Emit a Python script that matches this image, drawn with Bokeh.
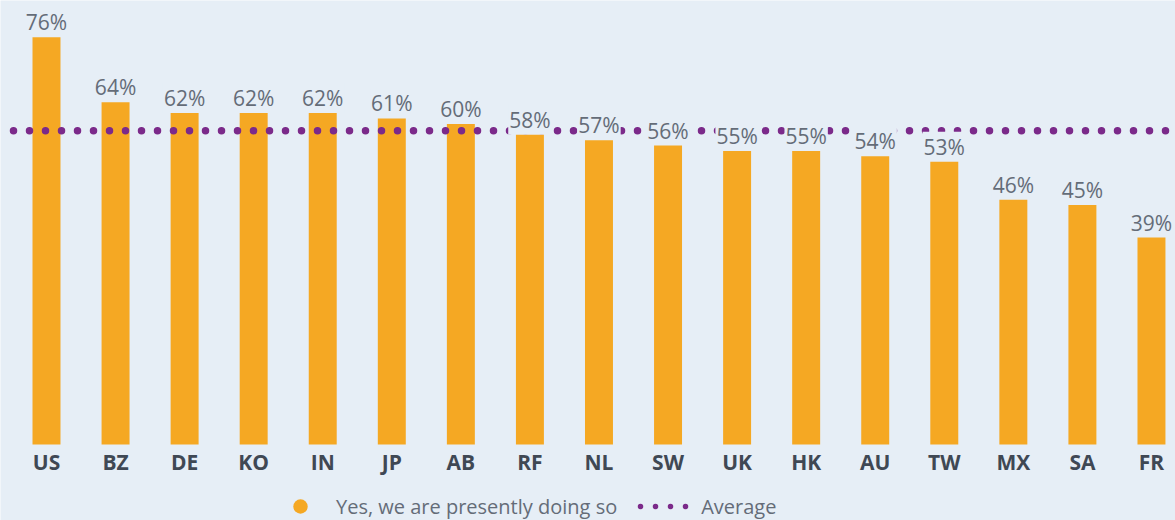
from bokeh.plotting import figure
from bokeh.models import ColumnDataSource, Range1d, Legend, LegendItem
from bokeh.core.properties import value
from bokeh.embed import file_html
from bokeh.resources import INLINE

countries = ["US", "BZ", "DE", "KO", "IN", "JP", "AB", "RF", "NL", "SW", "UK", "HK", "AU", "TW", "MX", "SA", "FR"]
yes_values = [76, 64, 62, 62, 62, 61, 60, 58, 57, 56, 55, 55, 54, 53, 46, 45, 39]
average_value = 58
series_name = "Yes, we are presently doing so"
average_name = "Average"

BG = "#E6EEF6"
ORANGE = "#F5A823"
PURPLE = "#7B2A8A"
LABEL_GRAY = "#646C78"
AXIS_GRAY = "#3F4854"
FONT = "Open Sans"

x_lo, x_hi = -0.666, 16.348
y_lo, y_hi = -14.05, 82.07
xs = list(range(len(countries)))
src = ColumnDataSource(dict(x=xs, y=yes_values, lab=[f"{v}%" for v in yes_values],
                            base=[0] * len(xs), cat=countries))

p = figure(width=1175, height=520, output_backend="svg", toolbar_location=None,
           x_range=Range1d(x_lo, x_hi), y_range=Range1d(y_lo, y_hi),
           min_border_left=0, min_border_right=0, min_border_top=0, min_border_bottom=0)
p.background_fill_color = BG
p.border_fill_color = BG
p.outline_line_color = None
p.grid.visible = False
p.axis.visible = False

bars = p.vbar(x="x", top="y", width=0.405, bottom=0, source=src, color=ORANGE, line_color=None)

avg_line = p.line(x=[x_lo, x_hi], y=[average_value, average_value], line_color=PURPLE,
                  line_width=7.5, line_dash="0 16", line_cap="round", line_dash_offset=-13)

# value labels
p.text(x="x", y="y", text="lab", source=src, text_align="center", text_baseline="bottom",
       y_offset=4, text_font=value(FONT), text_font_size="21px", text_color=LABEL_GRAY,
       background_fill_color=BG, padding=1)

# category labels (x axis)
p.text(x="x", y="base", text="cat", source=src, text_align="center", text_baseline="middle",
       y_offset=18, text_font=value(FONT), text_font_style="bold", text_font_size="21px",
       text_color=AXIS_GRAY)

# legend proxies, placed outside the visible ranges
leg_circle = p.scatter(x=[x_lo - 1], y=[y_lo - 1], marker="circle", size=17,
                       fill_color=ORANGE, line_color=None)
leg_line = p.line(x=[x_lo - 2, x_lo - 1], y=[y_lo - 1, y_lo - 1], line_color=PURPLE,
                  line_width=5.5, line_dash="0 15", line_cap="round", line_dash_offset=-3)

legend = Legend(items=[LegendItem(label=series_name, renderers=[leg_circle]),
                       LegendItem(label=average_name, renderers=[leg_line])],
                orientation="horizontal", location=(272, -4),
                background_fill_alpha=0, border_line_color=None,
                label_text_font=FONT, label_text_font_size="20px", label_text_color=LABEL_GRAY,
                glyph_width=56, glyph_height=36, spacing=20, label_standoff=8,
                margin=0, padding=0)
p.add_layout(legend, "center")

open("out.html", "w").write(file_html(p, INLINE))
